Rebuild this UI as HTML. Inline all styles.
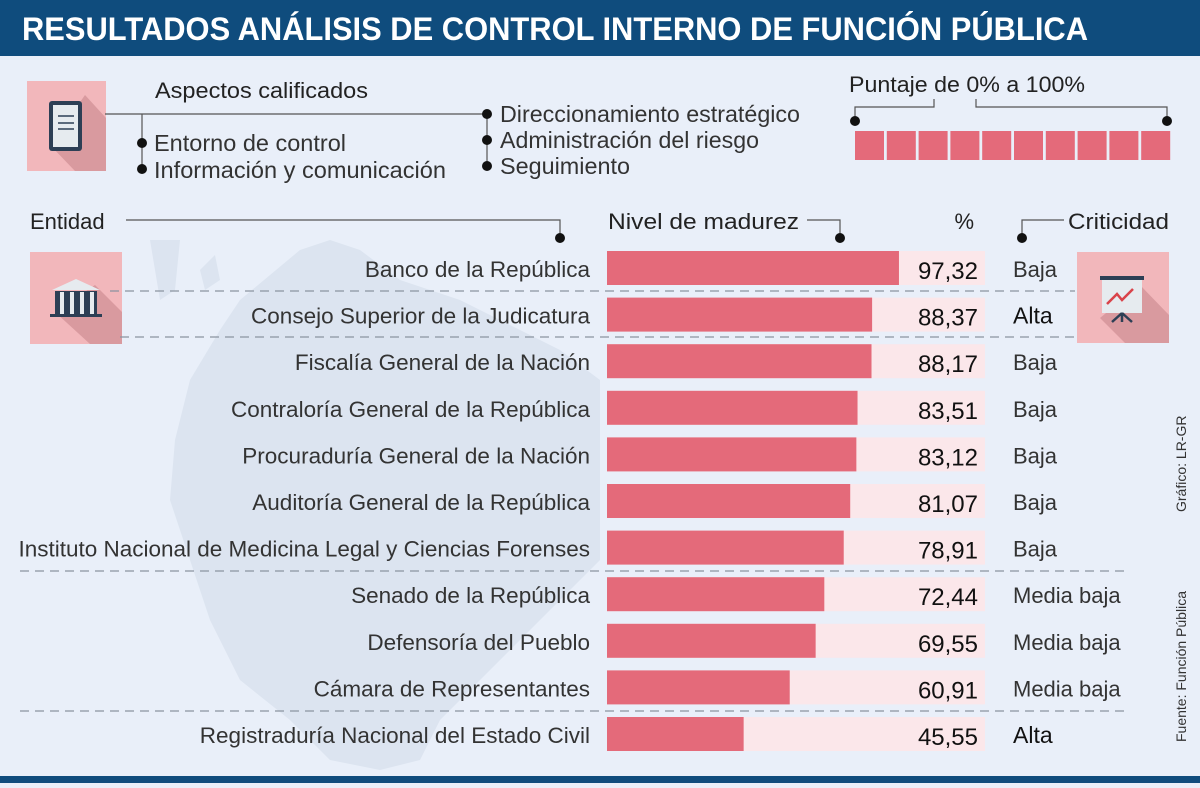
<!DOCTYPE html>
<html><head><meta charset="utf-8"><style>
body{margin:0;width:1200px;height:783px;overflow:hidden;background:#e9eff9;font-family:"Liberation Sans",sans-serif;}
</style></head><body>
<svg width="1200" height="783" xmlns="http://www.w3.org/2000/svg" font-family="Liberation Sans, sans-serif">
<rect width="1200" height="783" fill="#e9eff9"/>
<rect width="1200" height="56" fill="#0f4c7d"/>
<text x="22" y="40" fill="#fff" font-size="32" font-weight="bold" textLength="1066" lengthAdjust="spacingAndGlyphs">RESULTADOS ANÁLISIS DE CONTROL INTERNO DE FUNCIÓN PÚBLICA</text>
<rect y="776" width="1200" height="7" fill="#0f4c7d"/>
<path d="M150,240 L180,240 L175,290 L160,300 Z M200,270 L215,255 L220,280 L205,290 Z M240,300 L300,250 L330,240 L360,250 L400,280 L460,300 L520,330 L560,350 L600,380 L600,560 L560,600 L520,640 L480,680 L440,720 L420,760 L380,770 L330,760 L290,720 L240,680 L210,620 L190,560 L170,500 L175,440 L190,380 L220,330 Z" fill="#dce4f0"/>
<rect x="27" y="81" width="79" height="90" fill="#f2b7bb"/>
<polygon points="85,95 106,118 106,171 75,171 50,145" fill="#d99a9f"/>
<rect x="49" y="101" width="33" height="50" rx="3" fill="#2d3f55"/>
<rect x="53" y="105" width="25" height="42" fill="#e6ebef"/>
<line x1="58" y1="116" x2="74" y2="116" stroke="#2d3f55" stroke-width="1.5"/><line x1="58" y1="123" x2="74" y2="123" stroke="#2d3f55" stroke-width="1.5"/><line x1="58" y1="129" x2="74" y2="129" stroke="#2d3f55" stroke-width="1.5"/>
<text x="155" y="98" font-size="22" fill="#222" textLength="213" lengthAdjust="spacingAndGlyphs">Aspectos calificados</text>
<g stroke="#555" stroke-width="1.2" fill="none"><path d="M105,114 H487 V165"/><path d="M142,114 V170"/></g>
<g fill="#111"><circle cx="142" cy="143" r="5"/><circle cx="142" cy="169" r="5"/><circle cx="487" cy="114" r="5"/><circle cx="487" cy="140" r="5"/><circle cx="487" cy="166" r="5"/></g>
<g font-size="23" fill="#333">
<text x="154" y="151" textLength="192" lengthAdjust="spacingAndGlyphs">Entorno de control</text>
<text x="154" y="178" textLength="292" lengthAdjust="spacingAndGlyphs">Información y comunicación</text>
<text x="500" y="122" textLength="300" lengthAdjust="spacingAndGlyphs">Direccionamiento estratégico</text>
<text x="500" y="148" textLength="259" lengthAdjust="spacingAndGlyphs">Administración del riesgo</text>
<text x="500" y="174" textLength="130" lengthAdjust="spacingAndGlyphs">Seguimiento</text>
</g>
<text x="849" y="92" font-size="22" fill="#222" textLength="236" lengthAdjust="spacingAndGlyphs">Puntaje de 0% a 100%</text>
<g stroke="#555" stroke-width="1.2" fill="none"><path d="M934,99 V107 H855 V120"/><path d="M976,99 V107 H1167 V120"/></g>
<circle cx="855" cy="121" r="5" fill="#111"/><circle cx="1167" cy="121" r="5" fill="#111"/>
<g id="scale"></g>
<text x="30" y="229" font-size="22" fill="#222">Entidad</text>
<path d="M126,220 H560 V238" stroke="#555" stroke-width="1.2" fill="none"/><circle cx="560" cy="238" r="5" fill="#111"/>
<text x="608" y="229" font-size="22" fill="#222" textLength="191" lengthAdjust="spacingAndGlyphs">Nivel de madurez</text>
<path d="M807,220 H840 V238" stroke="#555" stroke-width="1.2" fill="none"/><circle cx="840" cy="238" r="5" fill="#111"/>
<text x="974" y="229" font-size="22" fill="#222" text-anchor="end">%</text>
<text x="1068" y="229" font-size="22" fill="#222" textLength="101" lengthAdjust="spacingAndGlyphs">Criticidad</text>
<path d="M1064,220 H1022 V238" stroke="#555" stroke-width="1.2" fill="none"/><circle cx="1022" cy="238" r="5" fill="#111"/>
<rect x="30" y="252" width="92" height="92" fill="#f2b7bb"/>
<polygon points="95,285 122,312 122,344 90,344 55,312" fill="#d99a9f"/>
<polygon points="76,279 52,290 100,290" fill="#e6ebef"/>
<rect x="55" y="291" width="42" height="24" fill="#2d3f55"/><rect x="60" y="292" width="4" height="22" fill="#e6ebef"/><rect x="70" y="292" width="4" height="22" fill="#e6ebef"/><rect x="80" y="292" width="4" height="22" fill="#e6ebef"/><rect x="90" y="292" width="4" height="22" fill="#e6ebef"/>
<rect x="50" y="314" width="52" height="3" fill="#2d3f55"/>
<rect x="1077" y="252" width="92" height="91" fill="#f2b7bb"/>
<polygon points="1140,285 1169,315 1169,343 1125,343 1100,318" fill="#d99a9f"/>
<rect x="1102" y="278" width="40" height="35" fill="#e6ebef"/><rect x="1100" y="276" width="44" height="4" fill="#2d3f55"/>
<polyline points="1107,304 1117,294 1122,300 1133,289" stroke="#d9434a" stroke-width="2.5" fill="none"/>
<path d="M1122,313 L1112,322 M1122,313 V322 M1122,313 L1132,322" stroke="#2d3f55" stroke-width="2.5"/>
<g stroke="#8a93a0" stroke-width="1.2" stroke-dasharray="9,6">
<line x1="110" y1="291" x2="1075" y2="291"/><line x1="120" y1="337" x2="1075" y2="337"/>
<line x1="20" y1="571" x2="1130" y2="571"/><line x1="20" y1="711" x2="1130" y2="711"/>
</g>
<g id="rows"></g>
<text transform="translate(1186,512) rotate(-90)" font-size="14" fill="#333">Gráfico: LR-GR</text>
<text transform="translate(1186,742) rotate(-90)" font-size="14" fill="#333">Fuente: Función Pública</text>
</svg>
<script>
const entities=["Banco de la República","Consejo Superior de la Judicatura","Fiscalía General de la Nación","Contraloría General de la República","Procuraduría General de la Nación","Auditoría General de la República","Instituto Nacional de Medicina Legal y Ciencias Forenses","Senado de la República","Defensoría del Pueblo","Cámara de Representantes","Registraduría Nacional del Estado Civil"];
const scores=[97.32,88.37,88.17,83.51,83.12,81.07,78.91,72.44,69.55,60.91,45.55];
const criticality=["Baja","Alta","Baja","Baja","Baja","Baja","Baja","Media baja","Media baja","Media baja","Alta"];
const scaleSteps=[0,1,2,3,4,5,6,7,8,9];
const NS="http://www.w3.org/2000/svg";
function mk(tag,attrs,parent,txt){const e=document.createElementNS(NS,tag);for(const k in attrs)e.setAttribute(k,attrs[k]);if(txt!==undefined)e.textContent=txt;parent.appendChild(e);return e;}
const x0=607,pxPer=3.0,rowTop=i=>251+i*46.6;
const sc=document.getElementById('scale');
scaleSteps.forEach(s=>{const r=mk('rect',{x:855+s*31.8,y:131,width:29,height:29,fill:'#e46a7a'},sc);

});
const g=document.getElementById('rows');
entities.forEach((n,i)=>{const y=rowTop(i);
const t=mk('text',{x:590,y:y+26,'font-size':22.5,fill:'#333','text-anchor':'end'},g,n);


const tr=mk('rect',{x:x0,y:y,width:378,height:34,fill:'#fbe7ea'},g);


const b=mk('rect',{x:x0,y:y,width:scores[i]*pxPer,height:34,fill:'#e46a7a'},g);


const v=mk('text',{x:978,y:y+28,'font-size':24,fill:'#111','text-anchor':'end'},g,scores[i].toFixed(2).replace('.',','));


const c=mk('text',{x:1013,y:y+26,'font-size':criticality[i]==='Alta'?23:22,fill:criticality[i]==='Alta'?'#111':'#333'},g,criticality[i]);

});
</script>
</body></html>
